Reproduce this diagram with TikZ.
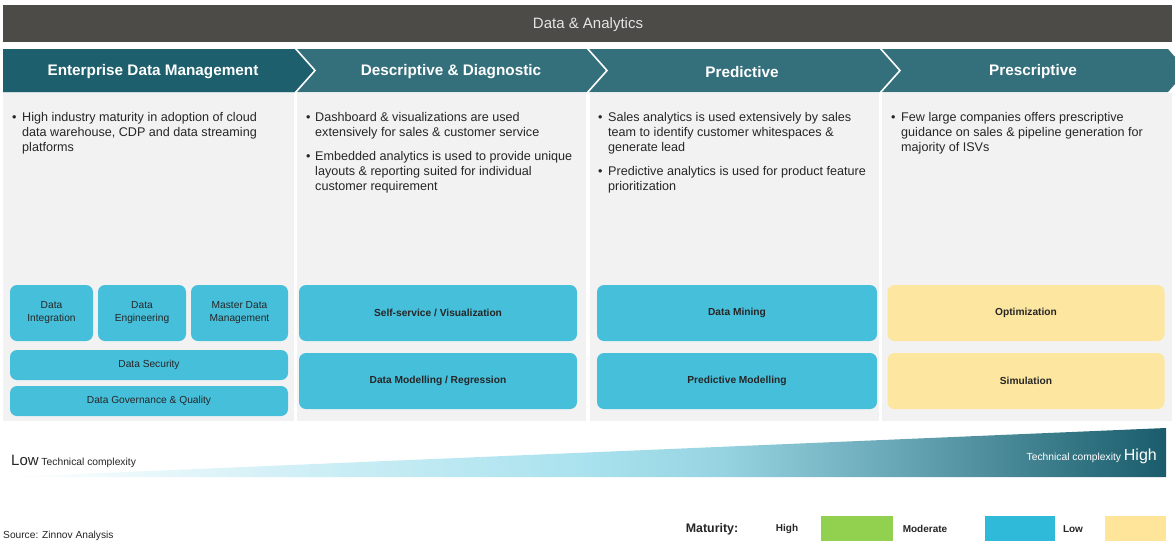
\documentclass[tikz,border=0pt]{standalone}
\usepackage{fontspec}
\setmainfont{Liberation Sans}
\definecolor{topbar}{HTML}{4D4B48}
\definecolor{chevA}{HTML}{1D5F6D}
\definecolor{chevB}{HTML}{346F7C}
\definecolor{panel}{HTML}{F2F2F2}
\definecolor{boxc}{HTML}{46BFDB}
\definecolor{boxy}{HTML}{FDE6A0}
\definecolor{txt}{HTML}{262626}
\definecolor{lgreen}{HTML}{92D050}
\definecolor{lblue}{HTML}{2EBAD8}
\definecolor{lyellow}{HTML}{FEE59A}
\definecolor{gc1}{HTML}{D0EFF6}
\definecolor{gc2}{HTML}{A9E2EE}
\definecolor{gc3}{HTML}{96D3E1}
\definecolor{gc4}{HTML}{6AA9B8}
\definecolor{gc5}{HTML}{1A5C6B}
\pgfdeclarehorizontalshading{complexity}{100bp}{color(0bp)=(white); color(25bp)=(white); color(37.5bp)=(gc1); color(50bp)=(gc2); color(56bp)=(gc3); color(63bp)=(gc4); color(75bp)=(gc5); color(100bp)=(gc5)}
\begin{document}
\begin{tikzpicture}[x=1pt,y=-1pt,
  bul/.style={anchor=north west, inner sep=0pt, align=left, font=\fontsize{12.6}{15}\selectfont, text=txt},
  chevtext/.style={font=\bfseries\fontsize{15.3}{17}\selectfont, text=white, inner sep=0pt},
  cbox/.style={fill=boxc, rounded corners=7pt, inner sep=0pt, align=center, text=txt, font=\fontsize{10.2}{13}\selectfont},
  cboxb/.style={cbox, font=\bfseries\fontsize{10.2}{13}\selectfont},
  ybox/.style={cboxb, fill=boxy},
  legtext/.style={font=\bfseries\fontsize{10}{12}\selectfont, text=txt, inner sep=0pt},
  legbox/.style={inner sep=0pt, minimum width=#1, minimum height=25pt},
  seam/.style={draw=white, line width=1.6pt}
]
\useasboundingbox (0,0) rectangle (1175,544);
\fill[white] (0,0) rectangle (1175,544);

% top bar
\fill[topbar] (3,5) rectangle (1172,42);
\node[font=\fontsize{15}{17}\selectfont, text=white!90!black, inner sep=0pt] (title) at (588,24.5) {Data \& Analytics};

% chevron band
\fill[chevB] (3,49) -- (1168,49) -- (1175,57) -- (1175,84) -- (1168,92) -- (3,92) -- cycle;
\fill[chevA] (3,49) -- (295,49) -- (315,70.5) -- (295,92) -- (3,92) -- cycle;
\draw[seam] (295,48) -- (315,70.5) -- (295,93);
\draw[seam] (587,48) -- (607,70.5) -- (587,93);
\draw[seam] (880,48) -- (900,70.5) -- (880,93);
\node[chevtext] (h1) at (153,72) {Enterprise Data Management};
\node[chevtext] (h2) at (451,72) {Descriptive \& Diagnostic};
\node[chevtext] (h3) at (742,72) {Predictive};
\node[chevtext] (h4) at (1033,72) {Prescriptive};

% panels
\fill[panel] (3,93) rectangle (293.5,421);
\fill[panel] (296.5,93) rectangle (586,421);
\fill[panel] (589.5,93) rectangle (879,421);
\fill[panel] (882,93) rectangle (1172,421);

% bullets
\node[bul] (b1m) at (12,112.5) {\vphantom{Hdl}•};
\node[bul] (b1) at (22,112.5) {High industry maturity in adoption of cloud\\data warehouse, CDP and data streaming\\platforms};

\node[bul] (b2m) at (306,112.5) {\vphantom{Hdl}•};
\node[bul] (b2) at (315,112.5) {Dashboard \& visualizations are used\\extensively for sales \& customer service};
\node[bul] (b2bm) at (306,151.5) {\vphantom{Hdl}•};
\node[bul] (b2b) at (315,151.5) {Embedded analytics is used to provide unique\\layouts \& reporting suited for individual\\customer requirement};

\node[bul] (b3m) at (598,112.5) {\vphantom{Hdl}•};
\node[bul] (b3) at (608,112.5) {Sales analytics is used extensively by sales\\team to identify customer whitespaces \&\\generate lead};
\node[bul] (b3bm) at (598,166.5) {\vphantom{Hdl}•};
\node[bul] (b3b) at (608,166.5) {Predictive analytics is used for product feature\\prioritization};

\node[bul] (b4m) at (891,112.5) {\vphantom{Hdl}•};
\node[bul] (b4) at (901,112.5) {Few large companies offers prescriptive\\guidance on sales \& pipeline generation for\\majority of ISVs};

% column 1 boxes
\node[cbox, minimum width=83pt, minimum height=56pt] (di) at (51.5,313) {Data\\Integration};
\node[cbox, minimum width=88pt, minimum height=56pt] (de) at (142,313) {Data\\Engineering};
\node[cbox, minimum width=97pt, minimum height=56pt] (mdm) at (239.5,313) {Master Data\\Management};
\node[cbox, minimum width=278pt, minimum height=30pt] (ds) at (149,365) {\raisebox{-1.5pt}{Data Security}};
\node[cbox, minimum width=278pt, minimum height=30pt] (dg) at (149,401) {\raisebox{-1.5pt}{Data Governance \& Quality}};

% column 2 boxes
\node[cboxb, minimum width=278pt, minimum height=56pt] (ssv) at (438,313) {Self-service / Visualization};
\node[cboxb, minimum width=278pt, minimum height=56pt] (dmr) at (438,381) {\raisebox{-1pt}{Data Modelling / Regression}};

% column 3 boxes
\node[cboxb, minimum width=280pt, minimum height=56pt] (dmi) at (737,313) {Data Mining};
\node[cboxb, minimum width=280pt, minimum height=56pt] (pm) at (737,381) {\raisebox{-1pt}{Predictive Modelling}};

% column 4 boxes
\node[ybox, minimum width=277pt, minimum height=56pt] (opt) at (1026,313) {Optimization};
\node[ybox, minimum width=277pt, minimum height=56pt] (sim) at (1026,381) {Simulation};

% complexity wedge
\shade[shading=complexity] (8,477) -- (1166,428) -- (1166,477) -- cycle;
\node[anchor=base west, inner sep=0pt, text=txt] (low) at (11,465) {{\fontsize{15}{17}\selectfont Low} {\fontsize{10.3}{12}\selectfont Technical complexity}};
\node[anchor=base east, inner sep=0pt, text=white] (high) at (1157,460) {{\fontsize{10.3}{12}\selectfont Technical complexity} {\fontsize{16}{18}\selectfont High}};

% legend
\node[font=\bfseries\fontsize{12.4}{14}\selectfont, text=txt, inner sep=0pt] (mat) at (712,529) {Maturity:};
\node[legtext] (lh) at (787,529) {High};
\node[legbox=72pt, fill=lgreen] (lhb) at (857,528.5) {};
\node[legtext] (lm) at (925,529) {Moderate};
\node[legbox=70pt, fill=lblue] (lmb) at (1020,528.5) {};
\node[legtext] (ll) at (1073,529) {Low};
\node[legbox=61pt, fill=lyellow] (llb) at (1135,528.5) {};

\node[anchor=west, inner sep=0pt, font=\fontsize{10.2}{12}\selectfont, text=txt] (src) at (3,536) {Source: Zinnov Analysis};
\end{tikzpicture}
\end{document}
